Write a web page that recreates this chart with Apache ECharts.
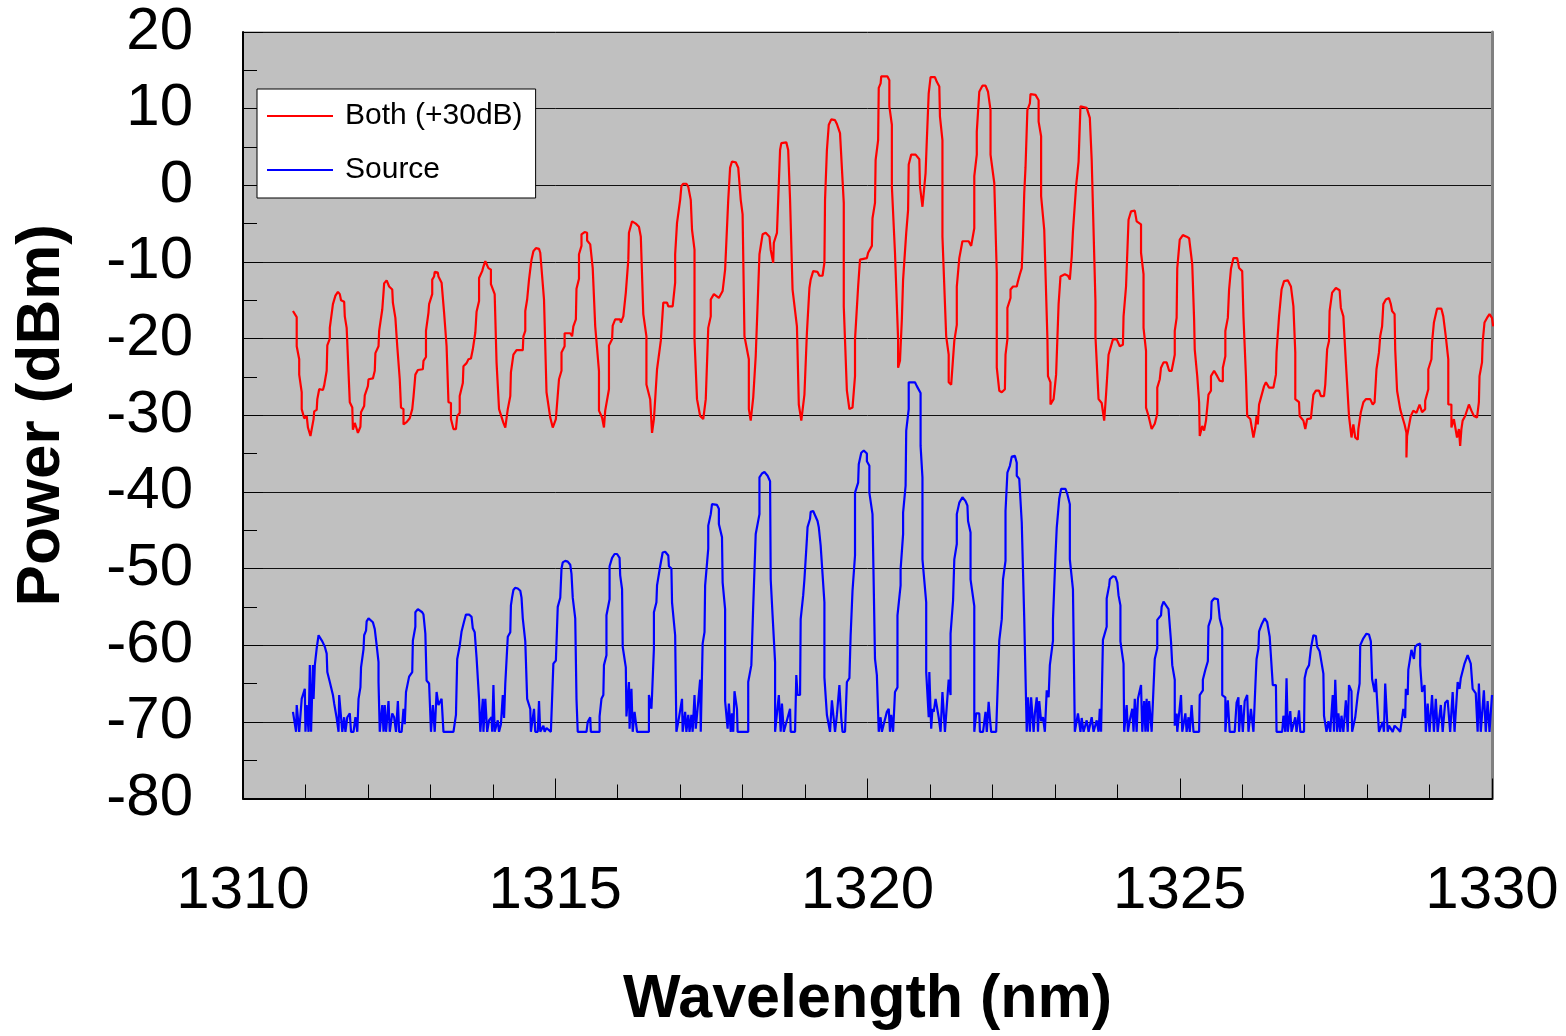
<!DOCTYPE html>
<html>
<head>
<meta charset="utf-8">
<script src="https://cdn.jsdelivr.net/npm/echarts@6/dist/echarts.min.js"></script>
<style>
html,body{margin:0;padding:0;background:#fff;}
#chart{width:1566px;height:1036px;}
</style>
</head>
<body>
<div id="chart"></div>
<script>
// Series names
const seriesNames = ['Both (+30dB)', 'Source'];
// Axis settings (tick values)
const xTickRange = [1310, 1330, 5];
const yTickRange = [-80, 20, 10];

// "Both (+30dB)" series: [wavelength nm, power dBm]
const bothPoints = [
[1310.80,-16.4],[1310.86,-17.2],[1310.86,-21.0],[1310.90,-22.7],[1310.90,-24.7],[1310.94,-27.0],[1310.94,-29.2],[1310.98,-30.4],[1311.02,-30.1],[1311.04,-31.6],[1311.08,-32.7],[1311.13,-30.5],[1311.14,-29.5],[1311.18,-29.3],[1311.19,-27.9],[1311.22,-26.6],[1311.28,-26.7],[1311.30,-26.1],[1311.34,-24.2],[1311.35,-20.9],[1311.39,-20.0],[1311.39,-18.6],[1311.44,-15.5],[1311.46,-15.3],[1311.48,-14.4],[1311.52,-13.9],[1311.55,-14.2],[1311.57,-15.0],[1311.62,-15.2],[1311.63,-17.1],[1311.66,-18.6],[1311.71,-28.3],[1311.75,-29.0],[1311.76,-31.9],[1311.79,-31.0],[1311.81,-31.5],[1311.84,-32.3],[1311.88,-31.5],[1311.89,-29.6],[1311.94,-28.8],[1311.95,-27.4],[1312.00,-26.2],[1312.01,-25.3],[1312.08,-25.2],[1312.11,-24.2],[1312.12,-21.9],[1312.17,-21.0],[1312.18,-19.0],[1312.23,-16.2],[1312.25,-14.0],[1312.26,-12.8],[1312.30,-12.4],[1312.33,-12.4],[1312.34,-13.2],[1312.39,-13.6],[1312.40,-15.3],[1312.44,-17.3],[1312.47,-21.0],[1312.51,-25.3],[1312.53,-29.0],[1312.57,-29.2],[1312.57,-31.2],[1312.62,-30.9],[1312.67,-30.4],[1312.71,-29.2],[1312.73,-27.6],[1312.75,-25.7],[1312.76,-24.7],[1312.80,-24.1],[1312.88,-24.0],[1312.89,-22.9],[1312.93,-22.4],[1312.93,-19.0],[1312.97,-16.6],[1312.98,-15.5],[1313.03,-14.2],[1313.03,-12.3],[1313.06,-11.9],[1313.07,-11.3],[1313.12,-11.4],[1313.13,-11.9],[1313.18,-12.7],[1313.22,-16.6],[1313.26,-21.0],[1313.29,-28.3],[1313.33,-28.4],[1313.33,-30.5],[1313.37,-31.8],[1313.41,-31.8],[1313.43,-30.1],[1313.47,-29.7],[1313.47,-27.5],[1313.52,-25.8],[1313.53,-23.6],[1313.58,-23.2],[1313.61,-22.7],[1313.65,-22.6],[1313.68,-21.4],[1313.70,-21.2],[1313.72,-19.2],[1313.74,-16.5],[1313.78,-15.1],[1313.78,-12.1],[1313.83,-11.2],[1313.85,-10.6],[1313.88,-9.9],[1313.91,-9.7],[1313.93,-10.8],[1313.97,-11.0],[1313.97,-12.9],[1314.03,-14.2],[1314.06,-23.1],[1314.10,-29.2],[1314.17,-31.0],[1314.20,-31.6],[1314.24,-29.2],[1314.28,-27.5],[1314.29,-24.4],[1314.33,-22.1],[1314.36,-22.1],[1314.38,-21.5],[1314.48,-21.5],[1314.49,-19.7],[1314.52,-19.0],[1314.52,-16.4],[1314.55,-14.9],[1314.58,-12.3],[1314.61,-10.3],[1314.62,-9.7],[1314.65,-8.6],[1314.69,-8.2],[1314.74,-8.3],[1314.76,-8.8],[1314.82,-14.9],[1314.86,-27.0],[1314.92,-30.3],[1314.96,-31.6],[1315.01,-30.5],[1315.06,-25.3],[1315.10,-24.2],[1315.10,-21.8],[1315.15,-21.0],[1315.15,-19.3],[1315.24,-19.3],[1315.27,-19.7],[1315.29,-18.4],[1315.33,-17.5],[1315.34,-13.5],[1315.38,-12.2],[1315.38,-9.0],[1315.42,-7.9],[1315.42,-6.4],[1315.47,-6.1],[1315.51,-6.2],[1315.51,-7.2],[1315.56,-7.7],[1315.60,-10.8],[1315.64,-18.4],[1315.70,-24.2],[1315.70,-29.4],[1315.75,-30.3],[1315.78,-31.6],[1315.80,-29.4],[1315.86,-26.6],[1315.86,-20.9],[1315.91,-20.1],[1315.92,-18.3],[1315.96,-17.5],[1316.04,-17.5],[1316.05,-17.9],[1316.09,-17.1],[1316.13,-14.0],[1316.17,-9.7],[1316.18,-6.2],[1316.23,-4.7],[1316.29,-5.0],[1316.34,-5.4],[1316.37,-6.7],[1316.41,-16.8],[1316.46,-19.7],[1316.46,-26.0],[1316.52,-27.9],[1316.55,-32.3],[1316.58,-30.5],[1316.63,-24.0],[1316.69,-20.3],[1316.73,-15.3],[1316.79,-15.3],[1316.81,-15.8],[1316.88,-15.8],[1316.92,-12.7],[1316.92,-9.0],[1316.95,-4.9],[1317.00,-1.9],[1317.02,-0.1],[1317.05,0.2],[1317.10,0.2],[1317.13,-0.2],[1317.17,-1.9],[1317.19,-5.8],[1317.23,-8.4],[1317.23,-20.1],[1317.27,-27.9],[1317.32,-30.1],[1317.37,-30.5],[1317.41,-27.9],[1317.45,-18.6],[1317.49,-17.1],[1317.49,-14.9],[1317.54,-14.2],[1317.62,-14.7],[1317.68,-13.8],[1317.72,-11.0],[1317.77,-1.9],[1317.80,2.3],[1317.83,3.1],[1317.89,3.0],[1317.93,2.3],[1317.97,-1.9],[1318.00,-3.8],[1318.03,-19.7],[1318.10,-22.7],[1318.10,-29.2],[1318.13,-30.7],[1318.17,-27.7],[1318.21,-22.3],[1318.27,-9.0],[1318.32,-6.4],[1318.37,-6.2],[1318.43,-6.7],[1318.45,-8.4],[1318.49,-10.1],[1318.50,-7.5],[1318.55,-6.2],[1318.57,-1.9],[1318.60,4.6],[1318.62,5.5],[1318.65,5.7],[1318.70,5.6],[1318.73,4.6],[1318.76,-1.9],[1318.80,-13.6],[1318.87,-18.4],[1318.90,-28.6],[1318.94,-30.7],[1318.99,-27.3],[1319.03,-19.2],[1319.07,-13.4],[1319.09,-12.3],[1319.13,-11.2],[1319.20,-11.3],[1319.23,-11.8],[1319.28,-11.8],[1319.31,-10.1],[1319.32,-1.9],[1319.35,4.6],[1319.38,7.9],[1319.42,8.6],[1319.48,8.5],[1319.51,8.0],[1319.56,6.8],[1319.62,-2.3],[1319.62,-15.8],[1319.67,-26.8],[1319.71,-29.2],[1319.76,-29.0],[1319.80,-24.9],[1319.80,-20.1],[1319.85,-13.2],[1319.88,-9.7],[1319.99,-9.5],[1320.01,-8.8],[1320.07,-7.9],[1320.08,-4.3],[1320.12,-2.3],[1320.13,3.3],[1320.17,5.9],[1320.18,12.7],[1320.21,13.3],[1320.22,14.2],[1320.32,14.2],[1320.35,13.7],[1320.35,10.3],[1320.39,7.9],[1320.39,-0.1],[1320.44,-8.8],[1320.49,-20.1],[1320.49,-23.8],[1320.52,-22.9],[1320.55,-17.5],[1320.57,-12.3],[1320.62,-6.2],[1320.65,-3.2],[1320.66,2.7],[1320.70,4.0],[1320.77,4.0],[1320.83,3.4],[1320.84,-0.1],[1320.88,-2.8],[1320.93,1.6],[1320.95,5.9],[1320.98,12.0],[1321.01,14.1],[1321.08,14.1],[1321.11,13.5],[1321.15,12.9],[1321.16,9.0],[1321.20,5.9],[1321.20,-6.7],[1321.26,-19.7],[1321.30,-22.1],[1321.30,-25.7],[1321.34,-26.0],[1321.39,-20.3],[1321.43,-18.2],[1321.43,-13.2],[1321.47,-9.5],[1321.52,-7.3],[1321.62,-7.3],[1321.66,-7.9],[1321.71,-5.6],[1321.71,1.2],[1321.75,4.0],[1321.75,7.0],[1321.79,12.2],[1321.84,13.0],[1321.89,13.0],[1321.93,12.2],[1321.97,9.8],[1321.97,4.0],[1322.03,0.3],[1322.07,-11.4],[1322.07,-23.8],[1322.11,-26.8],[1322.15,-27.0],[1322.20,-26.6],[1322.21,-22.1],[1322.24,-20.1],[1322.24,-16.0],[1322.29,-14.7],[1322.29,-13.6],[1322.33,-13.2],[1322.39,-13.2],[1322.41,-12.5],[1322.44,-11.6],[1322.47,-10.8],[1322.49,-6.7],[1322.51,-1.0],[1322.53,2.3],[1322.56,9.8],[1322.60,10.7],[1322.61,11.9],[1322.69,11.8],[1322.74,11.1],[1322.74,8.3],[1322.78,6.4],[1322.78,-1.4],[1322.83,-5.8],[1322.88,-19.7],[1322.89,-24.9],[1322.93,-25.7],[1322.93,-28.6],[1322.98,-27.9],[1323.02,-24.7],[1323.06,-15.5],[1323.09,-11.9],[1323.16,-11.6],[1323.21,-11.8],[1323.24,-12.3],[1323.27,-9.3],[1323.29,-6.0],[1323.34,-0.1],[1323.38,3.1],[1323.41,10.3],[1323.51,10.1],[1323.56,8.8],[1323.59,3.3],[1323.65,-15.1],[1323.65,-19.7],[1323.70,-27.9],[1323.75,-28.4],[1323.79,-30.7],[1323.82,-27.3],[1323.86,-22.1],[1323.93,-20.1],[1323.99,-20.1],[1324.04,-21.0],[1324.09,-20.8],[1324.10,-17.1],[1324.14,-13.2],[1324.18,-4.5],[1324.22,-3.4],[1324.28,-3.3],[1324.31,-4.7],[1324.38,-5.1],[1324.38,-8.8],[1324.42,-11.6],[1324.42,-18.6],[1324.46,-21.6],[1324.46,-29.0],[1324.50,-30.1],[1324.55,-31.8],[1324.60,-31.1],[1324.64,-29.8],[1324.64,-26.4],[1324.68,-25.3],[1324.70,-23.8],[1324.74,-23.1],[1324.79,-23.1],[1324.83,-24.2],[1324.87,-24.2],[1324.92,-22.1],[1324.92,-19.0],[1324.95,-17.3],[1324.96,-10.8],[1325.00,-7.1],[1325.05,-6.5],[1325.11,-6.7],[1325.15,-6.9],[1325.20,-10.3],[1325.23,-17.5],[1325.24,-21.4],[1325.28,-24.9],[1325.31,-28.3],[1325.32,-32.7],[1325.36,-31.4],[1325.39,-32.0],[1325.42,-30.7],[1325.46,-27.3],[1325.50,-26.8],[1325.50,-24.9],[1325.55,-24.2],[1325.60,-24.9],[1325.64,-25.5],[1325.69,-25.6],[1325.69,-23.8],[1325.73,-22.3],[1325.73,-19.0],[1325.77,-17.3],[1325.79,-13.6],[1325.82,-10.9],[1325.86,-9.5],[1325.92,-9.5],[1325.95,-10.8],[1326.00,-11.2],[1326.02,-17.1],[1326.06,-24.9],[1326.08,-30.1],[1326.13,-30.5],[1326.18,-32.9],[1326.21,-31.6],[1326.23,-30.1],[1326.25,-31.2],[1326.27,-28.6],[1326.30,-27.7],[1326.35,-26.2],[1326.38,-25.7],[1326.43,-26.4],[1326.50,-26.4],[1326.54,-24.7],[1326.55,-21.8],[1326.59,-17.1],[1326.63,-13.6],[1326.67,-12.5],[1326.73,-12.4],[1326.78,-13.2],[1326.82,-15.8],[1326.85,-21.8],[1326.85,-27.9],[1326.91,-28.3],[1326.92,-30.1],[1326.98,-30.7],[1327.01,-31.8],[1327.04,-30.5],[1327.10,-30.4],[1327.12,-28.8],[1327.14,-27.3],[1327.18,-26.8],[1327.23,-26.8],[1327.26,-27.5],[1327.31,-27.5],[1327.33,-26.0],[1327.36,-21.4],[1327.39,-20.3],[1327.40,-16.4],[1327.44,-14.0],[1327.50,-13.4],[1327.56,-13.7],[1327.58,-16.0],[1327.62,-17.1],[1327.66,-23.1],[1327.71,-30.1],[1327.75,-32.9],[1327.78,-31.2],[1327.81,-32.9],[1327.85,-33.2],[1327.86,-31.8],[1327.90,-29.6],[1327.94,-28.3],[1327.98,-27.9],[1328.05,-27.9],[1328.09,-28.6],[1328.12,-28.3],[1328.15,-24.0],[1328.19,-21.8],[1328.21,-19.7],[1328.24,-18.4],[1328.26,-15.5],[1328.30,-14.9],[1328.35,-14.7],[1328.38,-15.5],[1328.40,-16.4],[1328.44,-16.8],[1328.45,-21.4],[1328.48,-26.8],[1328.53,-29.2],[1328.56,-30.1],[1328.60,-31.2],[1328.63,-32.3],[1328.63,-35.5],[1328.64,-32.7],[1328.70,-30.1],[1328.74,-29.4],[1328.79,-29.7],[1328.84,-28.6],[1328.88,-29.6],[1328.93,-29.2],[1328.93,-28.1],[1328.98,-26.6],[1328.98,-24.0],[1329.03,-22.7],[1329.04,-20.5],[1329.07,-17.9],[1329.12,-16.1],[1329.19,-16.1],[1329.22,-17.1],[1329.26,-19.7],[1329.30,-22.7],[1329.30,-28.6],[1329.35,-28.6],[1329.35,-31.6],[1329.39,-30.5],[1329.44,-32.9],[1329.47,-31.8],[1329.49,-34.0],[1329.51,-31.8],[1329.53,-30.7],[1329.57,-30.1],[1329.63,-28.6],[1329.67,-29.4],[1329.71,-30.1],[1329.76,-30.3],[1329.79,-28.3],[1329.80,-24.9],[1329.84,-23.1],[1329.85,-20.5],[1329.88,-17.9],[1329.92,-17.3],[1329.96,-16.8],[1330.00,-17.3],[1330.02,-18.4]
];

// "Source" series: [wavelength nm, power dBm]
const sourcePoints = [
[1310.80,-68.7],[1310.85,-71.3],[1310.86,-67.8],[1310.90,-71.3],[1310.94,-67.0],[1310.99,-65.7],[1311.00,-71.3],[1311.02,-67.8],[1311.05,-71.3],[1311.07,-62.6],[1311.09,-71.3],[1311.12,-62.6],[1311.13,-67.0],[1311.15,-62.6],[1311.18,-60.4],[1311.21,-58.7],[1311.27,-59.5],[1311.31,-60.2],[1311.34,-61.1],[1311.35,-63.5],[1311.39,-64.8],[1311.44,-66.5],[1311.46,-67.6],[1311.50,-69.5],[1311.53,-71.3],[1311.54,-66.5],[1311.57,-66.5],[1311.59,-71.3],[1311.62,-69.4],[1311.64,-71.3],[1311.67,-69.4],[1311.71,-68.9],[1311.73,-71.3],[1311.77,-71.3],[1311.80,-69.4],[1311.83,-71.3],[1311.85,-67.0],[1311.88,-65.5],[1311.89,-62.9],[1311.93,-60.5],[1311.94,-58.7],[1311.97,-58.1],[1311.98,-56.9],[1312.01,-56.5],[1312.08,-57.0],[1312.11,-57.9],[1312.14,-60.0],[1312.17,-62.2],[1312.17,-64.8],[1312.19,-71.3],[1312.23,-67.8],[1312.25,-71.3],[1312.27,-67.8],[1312.29,-71.3],[1312.31,-69.4],[1312.33,-67.3],[1312.35,-71.3],[1312.39,-68.9],[1312.42,-69.4],[1312.45,-71.3],[1312.48,-67.3],[1312.50,-71.3],[1312.54,-71.3],[1312.57,-68.3],[1312.59,-70.3],[1312.61,-66.1],[1312.64,-65.9],[1312.66,-64.1],[1312.71,-63.5],[1312.72,-59.4],[1312.76,-57.6],[1312.76,-55.7],[1312.80,-55.3],[1312.87,-55.7],[1312.89,-56.0],[1312.92,-58.5],[1312.94,-64.6],[1312.98,-65.0],[1313.01,-71.3],[1313.04,-67.8],[1313.07,-71.3],[1313.10,-66.1],[1313.13,-67.8],[1313.18,-67.0],[1313.21,-71.3],[1313.37,-71.3],[1313.41,-69.1],[1313.43,-61.8],[1313.47,-60.1],[1313.50,-58.2],[1313.54,-56.9],[1313.57,-56.0],[1313.62,-56.0],[1313.66,-56.3],[1313.68,-57.8],[1313.71,-58.3],[1313.74,-61.6],[1313.78,-67.0],[1313.80,-71.3],[1313.84,-67.0],[1313.85,-71.3],[1313.88,-67.0],[1313.91,-71.3],[1313.94,-69.8],[1313.98,-69.4],[1313.99,-71.3],[1314.01,-65.2],[1314.03,-71.3],[1314.08,-69.8],[1314.10,-71.3],[1314.13,-70.3],[1314.16,-66.5],[1314.18,-69.5],[1314.20,-65.0],[1314.24,-58.9],[1314.28,-58.3],[1314.29,-54.8],[1314.31,-53.7],[1314.33,-52.8],[1314.36,-52.5],[1314.40,-52.6],[1314.44,-52.9],[1314.46,-53.8],[1314.48,-56.5],[1314.52,-59.5],[1314.55,-67.0],[1314.60,-68.3],[1314.61,-71.3],[1314.66,-68.3],[1314.68,-71.3],[1314.72,-71.3],[1314.74,-67.3],[1314.76,-71.3],[1314.81,-70.5],[1314.83,-71.3],[1314.86,-70.8],[1314.93,-71.3],[1314.97,-62.4],[1315.01,-62.0],[1315.04,-55.0],[1315.08,-53.8],[1315.10,-50.0],[1315.12,-49.2],[1315.16,-49.0],[1315.20,-49.1],[1315.24,-49.5],[1315.26,-50.7],[1315.28,-53.8],[1315.32,-56.5],[1315.34,-67.0],[1315.36,-71.3],[1315.50,-71.3],[1315.52,-70.0],[1315.56,-69.4],[1315.57,-71.3],[1315.71,-71.3],[1315.71,-69.3],[1315.74,-67.0],[1315.77,-66.5],[1315.78,-62.6],[1315.82,-61.3],[1315.82,-56.1],[1315.87,-54.0],[1315.87,-49.7],[1315.91,-48.6],[1315.95,-48.1],[1315.99,-48.1],[1316.03,-48.6],[1316.04,-50.9],[1316.07,-52.7],[1316.08,-60.2],[1316.13,-62.9],[1316.14,-69.3],[1316.18,-64.8],[1316.19,-70.9],[1316.22,-65.7],[1316.24,-71.3],[1316.27,-68.7],[1316.31,-71.3],[1316.50,-71.3],[1316.50,-66.5],[1316.54,-68.3],[1316.55,-66.5],[1316.58,-60.4],[1316.58,-55.7],[1316.62,-54.4],[1316.63,-52.2],[1316.68,-49.7],[1316.72,-47.9],[1316.76,-47.8],[1316.81,-48.3],[1316.82,-49.7],[1316.86,-50.0],[1316.87,-54.4],[1316.92,-58.7],[1316.94,-71.3],[1316.97,-70.0],[1317.03,-67.0],[1317.04,-71.3],[1317.08,-68.7],[1317.10,-71.3],[1317.13,-69.1],[1317.15,-71.3],[1317.18,-69.1],[1317.20,-71.3],[1317.23,-66.5],[1317.25,-70.9],[1317.29,-67.3],[1317.32,-64.5],[1317.33,-71.3],[1317.36,-59.8],[1317.39,-58.3],[1317.40,-52.2],[1317.45,-47.4],[1317.45,-44.4],[1317.49,-42.9],[1317.51,-41.6],[1317.54,-41.5],[1317.59,-41.7],[1317.62,-42.2],[1317.62,-44.2],[1317.67,-45.9],[1317.68,-51.8],[1317.72,-55.3],[1317.72,-67.3],[1317.76,-70.9],[1317.78,-67.6],[1317.81,-71.3],[1317.83,-68.9],[1317.85,-71.3],[1317.87,-66.0],[1317.91,-68.3],[1317.92,-71.3],[1318.09,-71.3],[1318.09,-64.8],[1318.14,-62.6],[1318.17,-54.9],[1318.21,-45.5],[1318.27,-42.9],[1318.27,-38.1],[1318.31,-37.6],[1318.35,-37.4],[1318.40,-37.9],[1318.44,-38.6],[1318.45,-51.4],[1318.48,-56.1],[1318.52,-62.2],[1318.52,-71.3],[1318.58,-66.5],[1318.61,-71.3],[1318.63,-67.6],[1318.66,-71.3],[1318.76,-68.3],[1318.77,-71.3],[1318.84,-71.3],[1318.86,-63.9],[1318.88,-66.5],[1318.92,-66.5],[1318.93,-56.6],[1318.97,-53.5],[1318.99,-51.4],[1319.03,-46.1],[1319.04,-44.6],[1319.08,-43.5],[1319.09,-42.6],[1319.13,-42.5],[1319.16,-42.7],[1319.20,-43.8],[1319.22,-44.6],[1319.25,-47.0],[1319.31,-54.4],[1319.31,-64.2],[1319.35,-69.1],[1319.40,-71.3],[1319.43,-67.2],[1319.48,-71.3],[1319.51,-69.1],[1319.55,-65.2],[1319.58,-69.5],[1319.60,-71.3],[1319.64,-71.3],[1319.67,-64.8],[1319.71,-64.3],[1319.73,-58.7],[1319.76,-52.9],[1319.80,-48.3],[1319.80,-40.1],[1319.85,-38.8],[1319.86,-36.4],[1319.90,-34.9],[1319.94,-34.6],[1319.99,-35.0],[1319.99,-36.0],[1320.03,-36.6],[1320.03,-40.1],[1320.08,-42.9],[1320.12,-61.8],[1320.15,-63.9],[1320.18,-71.3],[1320.21,-69.4],[1320.23,-71.3],[1320.31,-68.7],[1320.34,-68.3],[1320.36,-71.3],[1320.38,-69.1],[1320.41,-71.3],[1320.44,-66.1],[1320.48,-65.5],[1320.48,-56.1],[1320.53,-52.2],[1320.53,-50.1],[1320.57,-45.5],[1320.57,-42.7],[1320.61,-39.2],[1320.62,-32.0],[1320.66,-29.2],[1320.66,-25.7],[1320.76,-25.7],[1320.79,-26.2],[1320.85,-27.1],[1320.85,-34.0],[1320.88,-38.1],[1320.88,-48.8],[1320.94,-54.4],[1320.94,-63.5],[1320.98,-69.4],[1320.99,-63.5],[1321.02,-70.9],[1321.04,-68.3],[1321.06,-68.7],[1321.09,-67.0],[1321.12,-66.8],[1321.14,-69.4],[1321.17,-71.3],[1321.20,-66.1],[1321.24,-71.3],[1321.27,-71.3],[1321.30,-64.5],[1321.33,-66.5],[1321.33,-58.5],[1321.37,-54.2],[1321.39,-48.8],[1321.43,-46.8],[1321.43,-42.9],[1321.47,-41.4],[1321.52,-40.7],[1321.57,-41.2],[1321.60,-41.8],[1321.61,-43.8],[1321.65,-45.3],[1321.65,-51.4],[1321.71,-54.9],[1321.71,-71.3],[1321.74,-68.9],[1321.79,-68.9],[1321.80,-71.3],[1321.85,-71.3],[1321.89,-68.7],[1321.91,-71.3],[1321.94,-67.4],[1321.96,-69.5],[1321.98,-71.3],[1322.06,-71.3],[1322.11,-59.4],[1322.15,-56.6],[1322.17,-51.4],[1322.21,-49.0],[1322.21,-42.5],[1322.24,-37.5],[1322.28,-36.6],[1322.31,-35.4],[1322.36,-35.3],[1322.39,-36.2],[1322.39,-37.9],[1322.43,-38.3],[1322.47,-44.0],[1322.51,-56.6],[1322.55,-71.3],[1322.57,-66.8],[1322.60,-71.3],[1322.62,-66.8],[1322.66,-71.3],[1322.68,-68.9],[1322.71,-66.8],[1322.73,-71.3],[1322.75,-67.3],[1322.78,-69.9],[1322.81,-69.4],[1322.84,-71.3],[1322.87,-71.3],[1322.87,-65.9],[1322.90,-66.8],[1322.92,-62.6],[1322.97,-59.4],[1322.97,-56.6],[1323.01,-48.3],[1323.03,-44.7],[1323.07,-40.9],[1323.10,-39.6],[1323.17,-39.6],[1323.20,-40.3],[1323.24,-41.6],[1323.24,-48.8],[1323.29,-52.7],[1323.32,-71.3],[1323.37,-68.9],[1323.40,-68.9],[1323.41,-71.3],[1323.43,-69.5],[1323.46,-71.3],[1323.51,-69.8],[1323.54,-71.3],[1323.59,-69.4],[1323.62,-71.3],[1323.67,-69.8],[1323.70,-71.3],[1323.72,-68.3],[1323.74,-71.3],[1323.77,-59.3],[1323.83,-57.6],[1323.83,-53.9],[1323.87,-52.2],[1323.88,-51.4],[1323.93,-51.0],[1323.97,-51.1],[1324.00,-51.8],[1324.02,-53.5],[1324.05,-54.8],[1324.05,-59.5],[1324.10,-62.4],[1324.11,-71.3],[1324.15,-67.8],[1324.17,-71.3],[1324.20,-69.8],[1324.24,-68.3],[1324.26,-71.3],[1324.28,-67.0],[1324.31,-71.3],[1324.33,-67.0],[1324.38,-65.2],[1324.40,-71.3],[1324.43,-67.3],[1324.45,-71.3],[1324.47,-67.0],[1324.49,-71.3],[1324.51,-67.3],[1324.55,-71.3],[1324.58,-65.5],[1324.60,-61.8],[1324.64,-60.4],[1324.64,-56.7],[1324.70,-56.1],[1324.71,-55.0],[1324.74,-54.3],[1324.78,-54.8],[1324.82,-55.3],[1324.86,-59.5],[1324.88,-62.6],[1324.92,-64.5],[1324.92,-70.5],[1324.95,-68.9],[1324.96,-71.3],[1325.02,-66.5],[1325.04,-71.3],[1325.09,-68.9],[1325.11,-71.3],[1325.14,-69.4],[1325.16,-71.3],[1325.19,-67.8],[1325.22,-71.3],[1325.31,-71.3],[1325.32,-66.5],[1325.37,-65.9],[1325.37,-64.5],[1325.41,-63.2],[1325.45,-62.1],[1325.46,-57.5],[1325.50,-56.5],[1325.51,-54.3],[1325.55,-53.9],[1325.61,-54.0],[1325.64,-56.5],[1325.68,-57.8],[1325.68,-66.5],[1325.73,-66.8],[1325.73,-71.3],[1325.77,-67.2],[1325.80,-71.3],[1325.88,-71.3],[1325.91,-67.5],[1325.94,-66.8],[1325.95,-71.3],[1325.98,-67.8],[1326.01,-71.3],[1326.04,-67.3],[1326.08,-66.5],[1326.10,-71.3],[1326.14,-68.3],[1326.18,-71.3],[1326.22,-63.5],[1326.23,-61.8],[1326.26,-60.4],[1326.27,-58.2],[1326.31,-57.3],[1326.36,-56.5],[1326.40,-57.0],[1326.44,-58.9],[1326.49,-65.2],[1326.54,-65.2],[1326.55,-71.3],[1326.64,-71.3],[1326.66,-69.2],[1326.69,-71.3],[1326.71,-64.3],[1326.73,-71.3],[1326.77,-68.6],[1326.79,-71.3],[1326.85,-69.4],[1326.87,-71.3],[1326.91,-68.5],[1326.93,-71.3],[1326.99,-71.3],[1327.00,-64.3],[1327.03,-64.3],[1327.03,-63.2],[1327.07,-62.6],[1327.10,-60.4],[1327.14,-58.7],[1327.18,-58.8],[1327.20,-60.2],[1327.24,-60.8],[1327.30,-63.7],[1327.31,-69.2],[1327.35,-71.3],[1327.38,-69.9],[1327.41,-71.3],[1327.45,-66.5],[1327.47,-71.3],[1327.49,-64.5],[1327.52,-71.3],[1327.54,-68.9],[1327.57,-71.3],[1327.59,-69.2],[1327.62,-71.3],[1327.66,-67.2],[1327.69,-71.3],[1327.71,-65.2],[1327.75,-66.0],[1327.76,-71.3],[1327.81,-69.4],[1327.85,-66.5],[1327.88,-65.0],[1327.89,-60.0],[1327.94,-59.1],[1327.99,-58.5],[1328.03,-58.6],[1328.06,-59.5],[1328.08,-64.4],[1328.12,-66.1],[1328.14,-64.4],[1328.16,-67.2],[1328.19,-71.3],[1328.25,-70.0],[1328.27,-71.3],[1328.29,-65.0],[1328.33,-71.3],[1328.35,-70.5],[1328.41,-71.3],[1328.44,-70.5],[1328.49,-70.9],[1328.53,-71.3],[1328.58,-68.3],[1328.61,-69.5],[1328.62,-65.7],[1328.65,-66.5],[1328.66,-63.2],[1328.71,-60.6],[1328.75,-61.8],[1328.77,-60.2],[1328.81,-59.9],[1328.85,-59.8],[1328.85,-62.6],[1328.88,-66.1],[1328.92,-65.2],[1328.94,-71.3],[1328.97,-67.6],[1329.00,-71.3],[1329.04,-66.5],[1329.07,-71.3],[1329.10,-67.0],[1329.13,-71.3],[1329.18,-67.8],[1329.21,-71.3],[1329.25,-67.5],[1329.29,-67.2],[1329.33,-71.3],[1329.37,-66.1],[1329.40,-71.3],[1329.45,-64.8],[1329.48,-65.7],[1329.50,-64.3],[1329.56,-62.4],[1329.61,-61.3],[1329.66,-62.4],[1329.69,-65.7],[1329.74,-66.3],[1329.77,-71.3],[1329.79,-65.0],[1329.82,-71.3],[1329.87,-65.9],[1329.90,-71.3],[1329.93,-67.3],[1329.96,-71.3],[1330.00,-66.5]
];

const FONT = "'Liberation Sans', Arial, Helvetica, sans-serif";
const chart = echarts.init(document.getElementById('chart'), null, {renderer: 'canvas'});
chart.setOption({
  animation: false,
  backgroundColor: '#ffffff',
  grid: {left: 243, right: 74, top: 32, bottom: 236, show: true,
         backgroundColor: '#C0C0C0', borderColor: '#808080', borderWidth: 1},
  legend: {
    orient: 'vertical', left: 257, top: 89,
    padding: [12, 13, 13, 10],
    itemWidth: 66, itemHeight: 2, itemGap: 24,
    icon: 'rect',
    backgroundColor: '#ffffff', borderColor: '#000000', borderWidth: 1, borderRadius: 0,
    textStyle: {fontFamily: FONT, fontSize: 30, color: '#000', lineHeight: 30, padding: [0, 0, 0, 7]},
    data: seriesNames
  },
  xAxis: {
    type: 'value', min: xTickRange[0], max: xTickRange[1], interval: xTickRange[2],
    name: 'Wavelength (nm)', nameLocation: 'middle', nameGap: 202,
    nameTextStyle: {fontFamily: FONT, fontSize: 61, fontWeight: 'bold', color: '#000', verticalAlign: 'middle', lineHeight: 61},
    axisLine: {show: true, onZero: false, lineStyle: {color: '#000', width: 2}},
    axisTick: {show: true, inside: true, length: 20, lineStyle: {color: '#000', width: 1}},
    minorTick: {show: true, splitNumber: 5, length: 14, lineStyle: {color: '#000', width: 1}},
    axisLabel: {fontFamily: FONT, fontSize: 60, color: '#000', margin: 63, lineHeight: 60,
                formatter: function (v) { return String(v); }},
    splitLine: {show: false}
  },
  yAxis: [{
    type: 'value', min: yTickRange[0], max: yTickRange[1], interval: yTickRange[2],
    name: 'Power (dBm)', nameLocation: 'middle', nameGap: 201,
    nameTextStyle: {fontFamily: FONT, fontSize: 62, fontWeight: 'bold', color: '#000', verticalAlign: 'middle', lineHeight: 62},
    axisLine: {show: true, onZero: false, lineStyle: {color: '#000', width: 2}},
    axisTick: {show: true, inside: true, length: 20, lineStyle: {color: '#000', width: 1}},
    minorTick: {show: true, splitNumber: 2, length: 14, lineStyle: {color: '#000', width: 1}},
    axisLabel: {fontFamily: FONT, fontSize: 60, color: '#000', margin: 50,
                formatter: function (v) { return String(v); }},
    splitLine: {show: true, lineStyle: {color: '#111', width: 1}}
  }, {
    type: 'value', position: 'right', min: yTickRange[0], max: yTickRange[1], interval: yTickRange[2],
    axisLine: {show: true, onZero: false, lineStyle: {color: '#808080', width: 3}},
    axisTick: {show: false}, axisLabel: {show: false}, splitLine: {show: false}
  }],
  series: [{
    name: seriesNames[0], type: 'line', data: bothPoints, showSymbol: false, symbol: 'none',
    lineStyle: {color: '#FF0000', width: 2.2}, itemStyle: {color: '#FF0000'}, clip: true, z: 3
  }, {
    name: seriesNames[1], type: 'line', data: sourcePoints, showSymbol: false, symbol: 'none',
    lineStyle: {color: '#0000FF', width: 2.2}, itemStyle: {color: '#0000FF'}, clip: true, z: 3
  }]
});
</script>
</body>
</html>
